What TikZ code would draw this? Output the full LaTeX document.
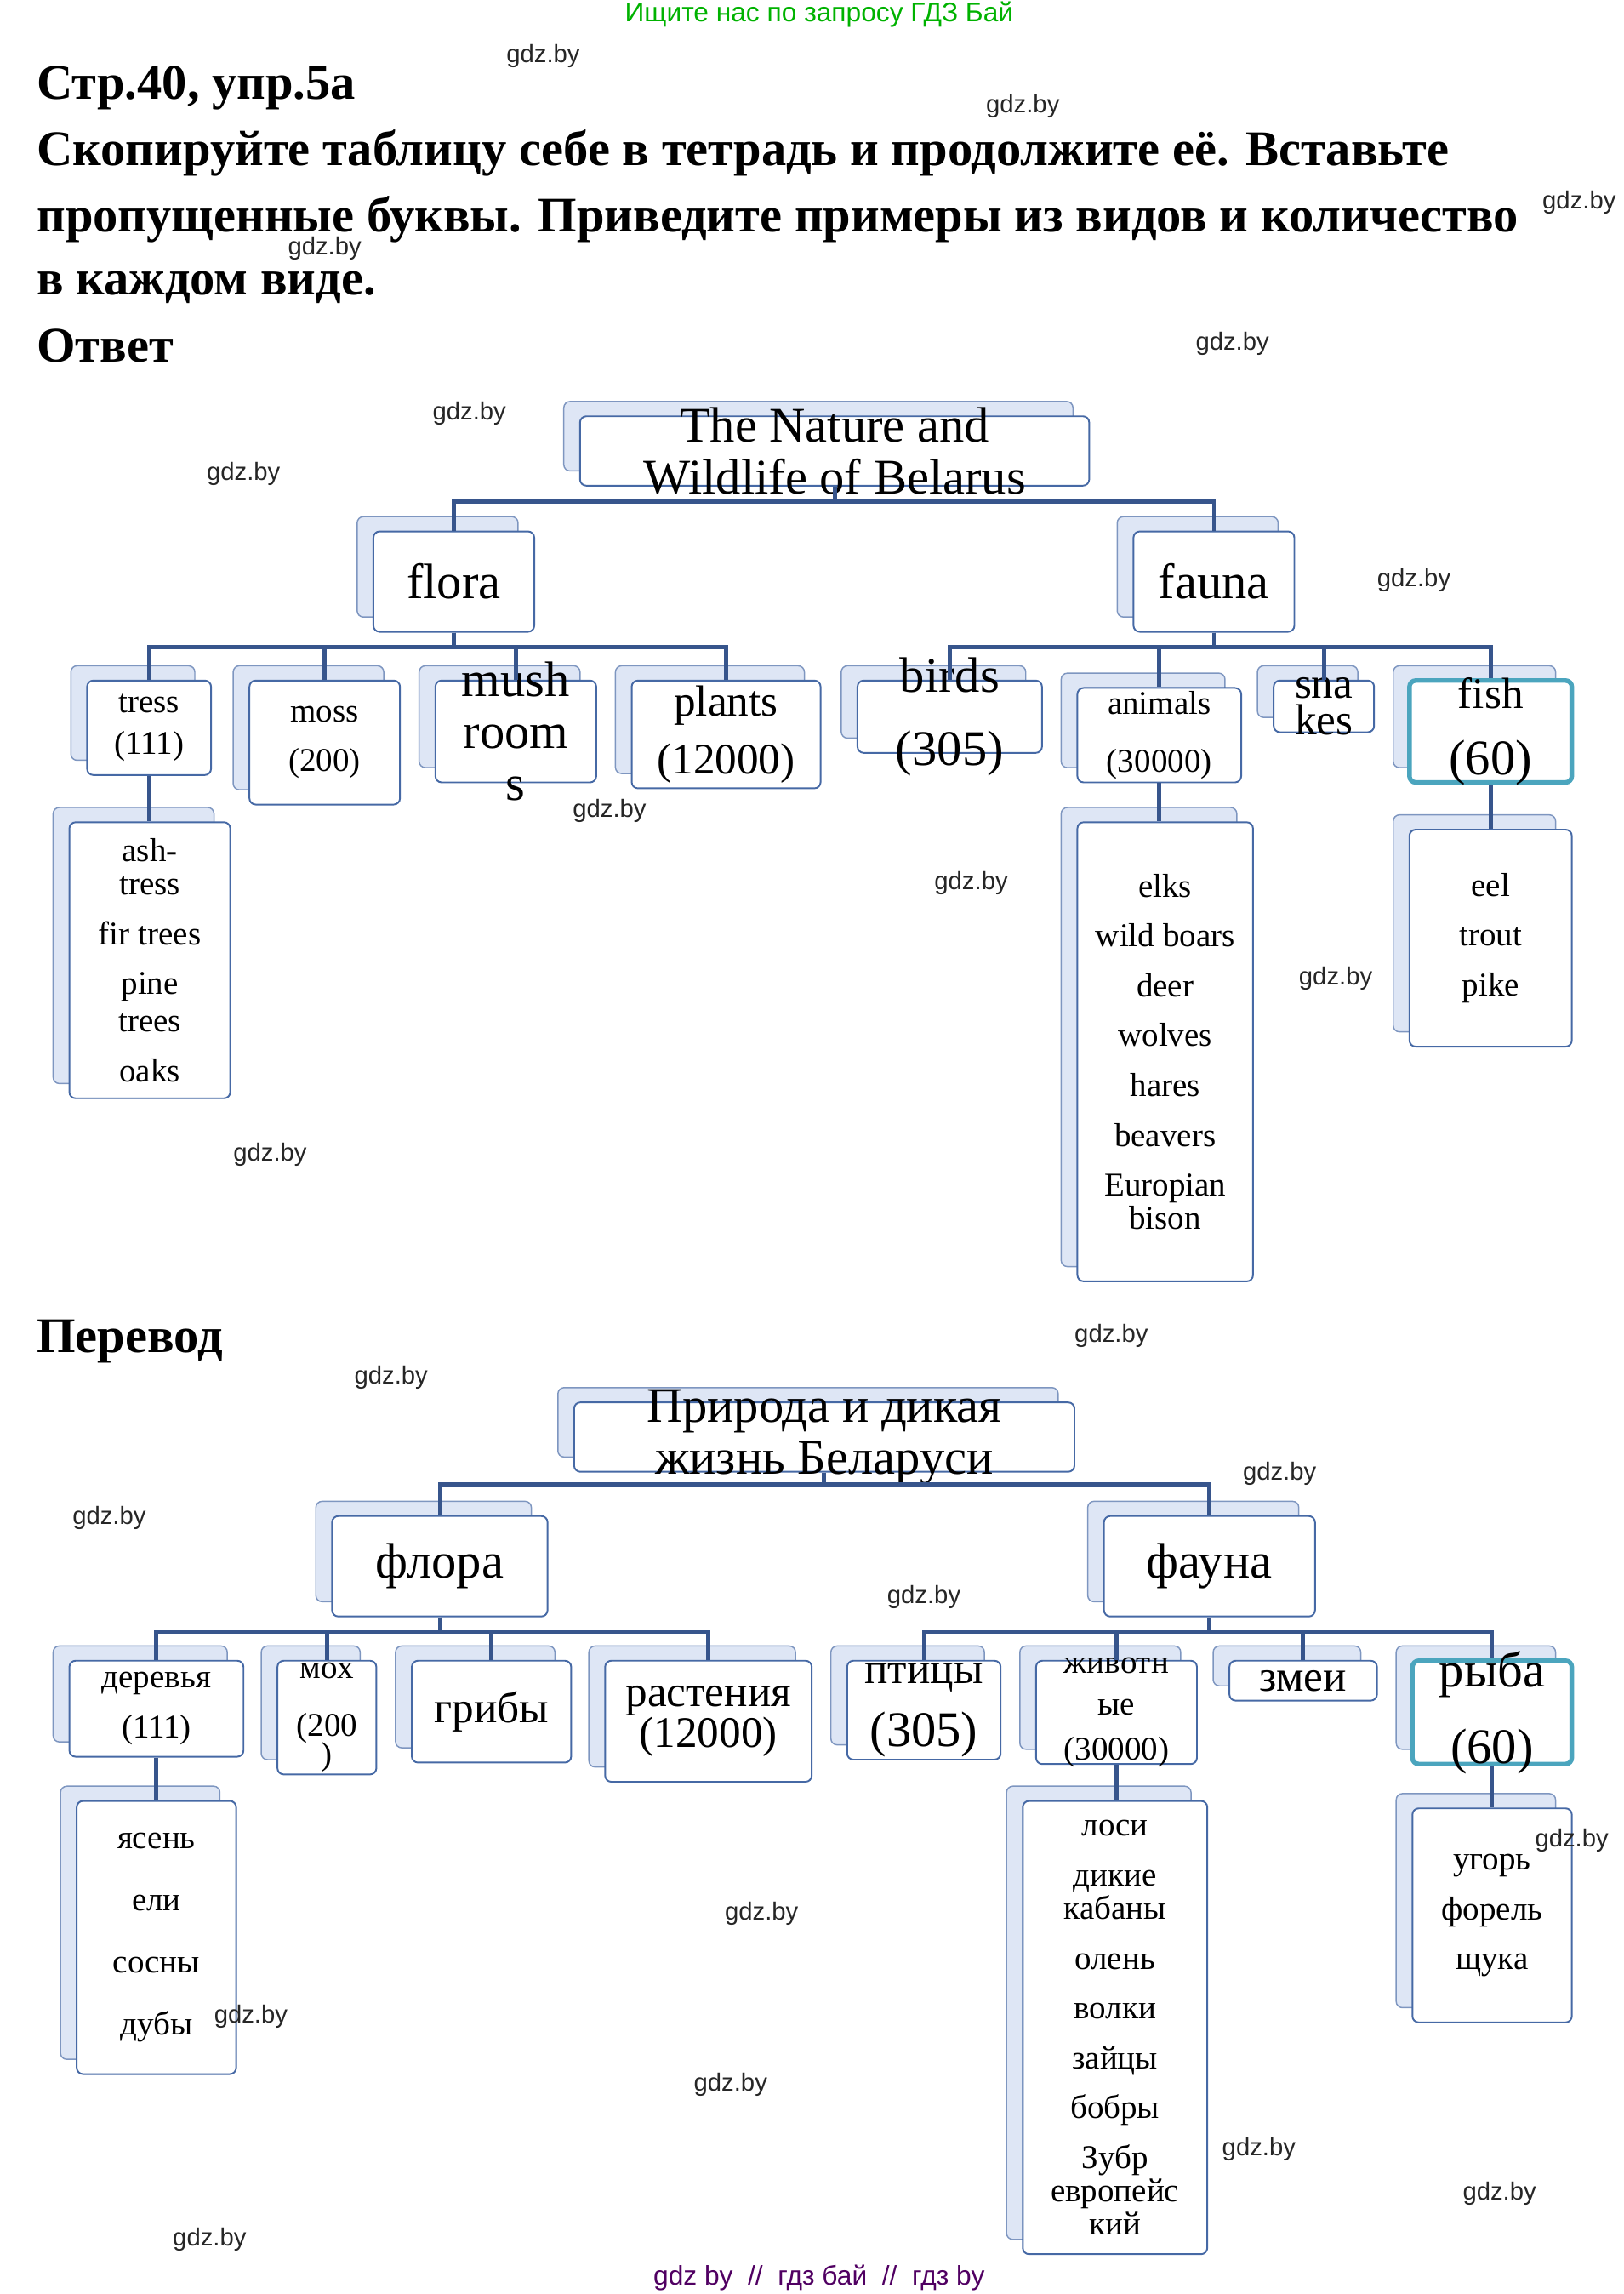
\documentclass[tikz,border=0pt]{standalone}
\usepackage{fontspec}
\setmainfont{Liberation Serif}
\newfontfamily\wmfont{Liberation Sans}
\definecolor{boxline}{RGB}{70,105,165}
\definecolor{backfill}{RGB}{222,230,245}
\definecolor{connline}{RGB}{55,85,140}
\definecolor{fishline}{RGB}{75,165,190}
\tikzset{
    backbox/.style={rectangle, rounded corners=3pt, draw=boxline!70, fill=backfill, line width=0.6pt},
    frontbox/.style={rectangle, rounded corners=3pt, draw=boxline, fill=white, line width=0.8pt},
    fishbox/.style={draw=fishline, line width=2.2pt},
    boxtext/.style={align=center, inner sep=0pt},
    conn/.style={draw=connline, line width=2pt},
    heading/.style={anchor=base west, font=\fontsize{24}{28}\selectfont\bfseries},
    wm/.style={font=\wmfont\fontsize{12}{14}\selectfont, text=black!85},
}
% box with a shaded copy behind it: [style] name x1 y1 x2 y2 font text
\newcommand\bx[8][]{%
  \pgfmathsetmacro\bw{(#5-#3)*0.025}\pgfmathsetmacro\bh{(#6-#4)*0.025}%
  \node[backbox, minimum width=\bw cm, minimum height=\bh cm] at ({(#3+#5)/2-11},{(#4+#6)/2-10}) {};
  \node[frontbox, minimum width=\bw cm, minimum height=\bh cm, #1] (#2) at ({(#3+#5)/2},{(#4+#6)/2}) {};
  \node[boxtext, font=#7] at (#2) {#8};}
\newcommand\fbig{\fontsize{24}{25}\selectfont}
\newcommand\fmid{\fontsize{21}{24}\selectfont}
\newcommand\fsml{\fontsize{16}{24}\selectfont}
\begin{document}
\begin{tikzpicture}[x=0.025cm, y=-0.025cm]
\useasboundingbox (0,0) rectangle (1100,1554);

% headings
\node[font=\wmfont\fontsize{13}{15}\selectfont, text=green!70!black] at (555,10) {Ищите нас по запросу ГДЗ Бай};
\node[heading] at (20,67) {Стр.40, упр.5а};
\node[heading] at (20,112) {Скопируйте таблицу себе в тетрадь и продолжите её. Вставьте};
\node[heading] at (20,157) {пропущенные буквы. Приведите примеры из видов и количество};
\node[heading] at (20,200) {в каждом виде.};
\node[heading] at (20,245) {Ответ};
\node[heading] at (20,916) {Перевод};

% answer tree
\bx{nature}{393}{282}{738}{329}{\fbig}{The Nature and\\Wildlife of Belarus}
\bx{flora}{253}{360}{362}{428}{\fbig}{flora}
\bx{fauna}{768}{360}{877}{428}{\fbig}{fauna}
\bx{ash}{47}{557}{156}{744}{\fsml}{ash-\\[-8pt]tress\\fir trees\\pine\\[-6pt]trees\\oaks}
\bx{tress}{59}{461}{143}{525}{\fsml}{tress\\[-4pt](111)}
\bx{moss}{169}{461}{271}{545}{\fsml}{moss\\(200)}
\bx{mush}{295}{461}{404}{530}{\fbig}{mush\\room\\s}
\bx{plants}{428}{461}{556}{534}{\fmid}{plants\\[4pt](12000)}
\bx{birds}{581}{461}{706}{510}{\fbig}{birds\\[10pt](305)}
\bx{zoo}{730}{557}{849}{868}{\fsml}{elks\\wild boars\\deer\\wolves\\hares\\beavers\\Europian\\[-8pt]bison}
\bx{animals}{730}{466}{841}{530}{\fsml}{animals\\[4pt](30000)}
\bx{snakes}{863}{461}{931}{496}{\fmid}{sna\\[-6pt]kes}
\bx{water}{955}{562}{1065}{709}{\fsml}{eel\\trout\\pike}
\bx[fishbox]{fish}{955}{461}{1065}{530}{\fmid}{fish\\[8pt]\fbig (60)}

\draw[conn] (nature.south) -- ++(0,10) -| (flora.north);
\draw[conn] (nature.south) -- ++(0,10) -| (fauna.north);
\foreach \n in {tress,moss,mush,plants}
  \draw[conn] (flora.south) -- ++(0,10) -| (\n.north);
\foreach \n in {birds,animals,snakes,fish}
  \draw[conn] (fauna.south) -- ++(0,10) -| (\n.north);
\draw[conn] (tress.south) -- (tress.south |- ash.north);
\draw[conn] (animals.south) -- (animals.south |- zoo.north);
\draw[conn] (fish.south) -- (fish.south |- water.north);

% translation tree
\bx{priroda}{389}{950}{728}{997}{\fbig}{Природа и дикая\\жизнь Беларуси}
\bx{flora2}{225}{1027}{371}{1095}{\fbig}{флора}
\bx{fauna2}{748}{1027}{891}{1095}{\fbig}{фауна}
\bx{yasen}{52}{1220}{160}{1405}{\fsml}{ясень\\[6pt]ели\\[6pt]сосны\\[6pt]дубы}
\bx{derev}{47}{1125}{165}{1190}{\fsml}{деревья\\(111)}
\bx{moh}{188}{1125}{255}{1202}{\fsml}{мох\\[4pt](200\\[-10pt])}
\bx{griby}{279}{1125}{387}{1194}{\fmid}{грибы}
\bx{rast}{410}{1125}{550}{1207}{\fmid}{растения\\[-4pt](12000)}
\bx{ptitsy}{574}{1125}{678}{1192}{\fmid}{птицы\\[6pt]\fbig (305)}
\bx{zveri}{693}{1220}{818}{1527}{\fsml}{лоси\\дикие\\[-8pt]кабаны\\олень\\волки\\зайцы\\бобры\\Зубр\\[-8pt]европейс\\[-8pt]кий}
\bx{zhiv}{702}{1125}{811}{1195}{\fsml}{животн\\[-4pt]ые\\[-2pt](30000)}
\bx{zmei}{833}{1125}{933}{1152}{\fmid}{змеи}
\bx{voda}{957}{1225}{1065}{1370}{\fsml}{угорь\\форель\\щука}
\bx[fishbox]{ryba}{957}{1125}{1065}{1195}{\fbig}{рыба\\[12pt](60)}

\draw[conn] (priroda.south) -- ++(0,8) -| (flora2.north);
\draw[conn] (priroda.south) -- ++(0,8) -| (fauna2.north);
\foreach \n in {derev,moh,griby,rast}
  \draw[conn] (flora2.south) -- ++(0,10) -| (\n.north);
\foreach \n in {ptitsy,zhiv,zmei,ryba}
  \draw[conn] (fauna2.south) -- ++(0,10) -| (\n.north);
\draw[conn] (derev.south) -- (derev.south |- yasen.north);
\draw[conn] (zhiv.south) -- (zhiv.south |- zveri.north);
\draw[conn] (ryba.south) -- (ryba.south |- voda.north);

% watermarks
\foreach \p in {(368,38),(693,72),(1070,137),(220,168),(835,233),(318,280),(165,321),(958,393),(413,549),(658,598),(905,663),(183,782),(753,905),(265,933),(867,998),(74,1028),(626,1082),(1065,1247),(516,1296),(170,1366),(495,1412),(853,1456),(1016,1486),(142,1517)}
  \node[wm] at \p {gdz.by};
\node[font=\wmfont\fontsize{13}{15}\selectfont, text=blue!55!red!70!black] at (555,1543) {gdz by\ \ //\ \ гдз бай\ \ //\ \ гдз by};
\end{tikzpicture}
\end{document}
